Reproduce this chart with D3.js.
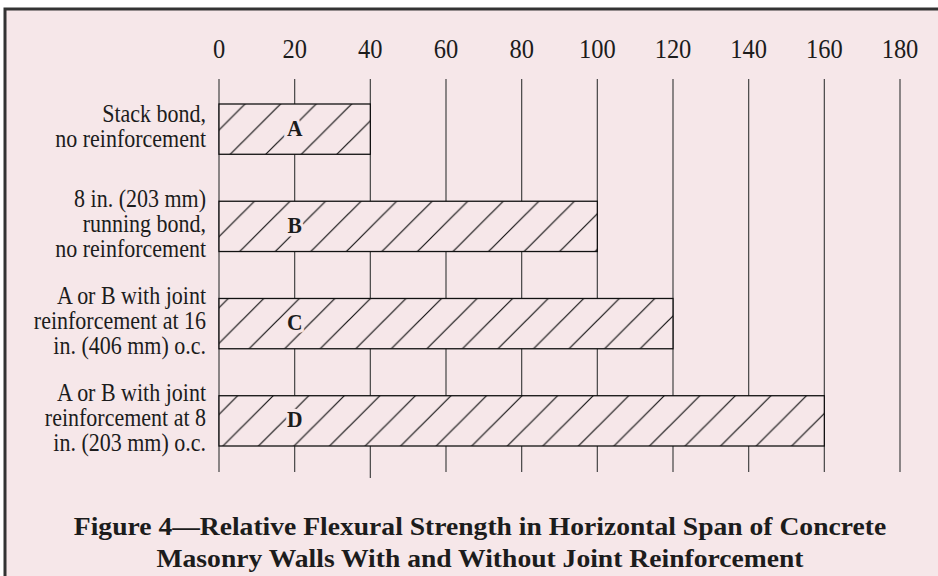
<!DOCTYPE html>
<html>
<head>
<meta charset="utf-8">
<script src="https://cdn.jsdelivr.net/npm/d3@7"></script>
<style>
  body { margin: 0; background: #fff; }
  text { font-family: "Liberation Serif", "Times New Roman", serif; }
</style>
</head>
<body>
<script>
const width = 938;
const height = 576;

// data
const barKeys = ["A", "B", "C", "D"];
const barValues = [40, 100, 120, 160];
const barLabels = [
  ["Stack bond,", "no reinforcement"],
  ["8 in. (203 mm)", "running bond,", "no reinforcement"],
  ["A or B with joint", "reinforcement at 16", "in. (406 mm) o.c."],
  ["A or B with joint", "reinforcement at 8", "in. (203 mm) o.c."]
];
const tickValues = [0, 20, 40, 60, 80, 100, 120, 140, 160, 180];
const titleLines = [
  "Figure 4\u2014Relative Flexural Strength in Horizontal Span of Concrete",
  "Masonry Walls With and Without Joint Reinforcement"
];

const bg = "#f6e7e9";
const ink = "#1c1c1c";
const gridTop = 79;
const gridBottom = 472;

const x = d3.scaleLinear()
    .domain([0, 180])
    .range([219, 900]);

const y = d3.scaleBand()
    .domain(barKeys)
    .range([104, 446])
    .paddingInner(0.483)
    .paddingOuter(0);

const svg = d3.select("body")
    .append("svg")
    .attr("width", width)
    .attr("height", height);

// hatch pattern, 45 deg lines
const hs = 35.55;
const pat = svg.append("defs").append("pattern")
    .attr("id", "hatch")
    .attr("patternUnits", "userSpaceOnUse")
    .attr("x", 349 % hs)
    .attr("y", 0)
    .attr("width", hs)
    .attr("height", hs);
pat.append("rect")
    .attr("width", hs)
    .attr("height", hs)
    .attr("fill", bg);
pat.append("path")
    .attr("d", `M0,${hs}L${hs},0M-2,2L2,-2M${hs - 2},${hs + 2}L${hs + 2},${hs - 2}`)
    .attr("stroke", "#111")
    .attr("stroke-width", 1.2);

// frame
svg.append("rect")
    .attr("x", 5)
    .attr("y", 9)
    .attr("width", width + 20)
    .attr("height", height + 20)
    .attr("fill", bg)
    .attr("stroke", "#333")
    .attr("stroke-width", 3);

// tick labels
svg.append("g")
  .selectAll("text")
  .data(tickValues)
  .join("text")
    .attr("transform", d => `translate(${x(d)},58) scale(1,1.12)`)
    .attr("text-anchor", "middle")
    .attr("font-size", 24.5)
    .attr("fill", ink)
    .text(d => d);

// grid lines
svg.append("g")
  .selectAll("line")
  .data(tickValues)
  .join("line")
    .attr("x1", d => x(d))
    .attr("x2", d => x(d))
    .attr("y1", gridTop)
    .attr("y2", d => d === 40 ? gridBottom + 6 : gridBottom)
    .attr("stroke", "#444")
    .attr("stroke-width", 1.2);

// bars
svg.append("g")
  .selectAll("rect")
  .data(barKeys)
  .join("rect")
    .attr("x", x(0))
    .attr("y", d => y(d))
    .attr("width", (d, i) => x(barValues[i]) - x(0))
    .attr("height", y.bandwidth())
    .attr("fill", "url(#hatch)")
    .attr("stroke", "#111")
    .attr("stroke-width", 1.3);

// bar letters
svg.append("g")
  .selectAll("text")
  .data(barKeys)
  .join("text")
    .attr("transform", d => `translate(${x(20)},${y(d) + y.bandwidth() / 2 + 6.5}) scale(1,1.08)`)
    .attr("text-anchor", "middle")
    .attr("font-size", 21.5)
    .attr("font-weight", "bold")
    .attr("fill", ink)
    .attr("stroke", bg)
    .attr("stroke-width", 6)
    .attr("paint-order", "stroke")
    .text(d => d);

// category labels
const lineH = 25;
const sy = 1.1;
svg.append("g")
  .selectAll("text")
  .data(barKeys)
  .join("text")
    .attr("transform", d => `translate(206,${y(d) + y.bandwidth() / 2 + 5.5}) scale(1,${sy})`)
    .attr("text-anchor", "end")
    .attr("font-size", 22)
    .attr("fill", ink)
    .each(function(d, i) {
      const lines = barLabels[i];
      const y0 = -(lines.length - 1) * lineH / 2 / sy;
      d3.select(this).selectAll("tspan")
        .data(lines)
        .join("tspan")
          .attr("x", 0)
          .attr("y", (t, j) => y0 + j * lineH / sy)
          .text(t => t);
    });

// title
svg.append("g")
  .selectAll("text")
  .data(titleLines)
  .join("text")
    .attr("transform", (d, i) => `translate(480,${535 + i * 32}) scale(1.07,1)`)
    .attr("text-anchor", "middle")
    .attr("font-size", 25.8)
    .attr("font-weight", "bold")
    .attr("fill", ink)
    .text(d => d);
</script>
</body>
</html>
